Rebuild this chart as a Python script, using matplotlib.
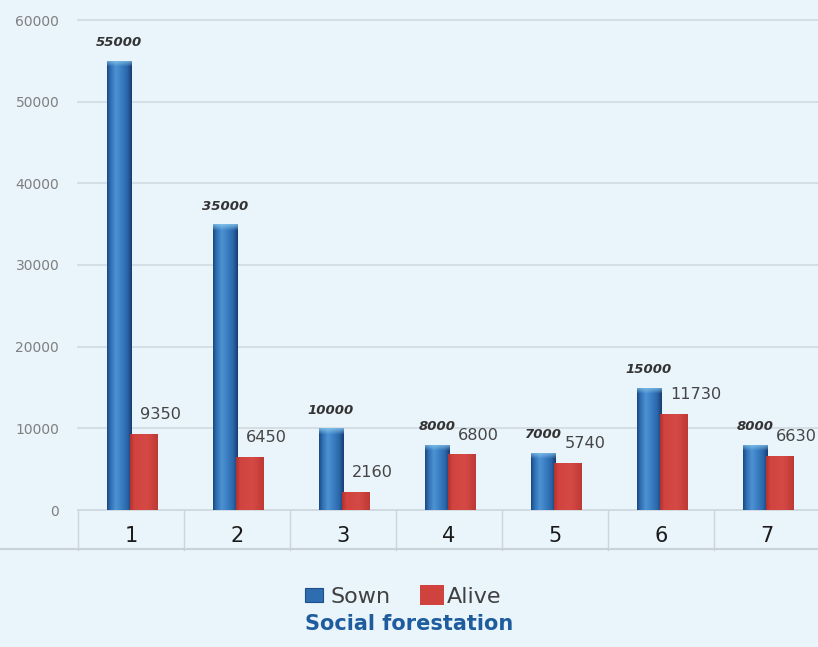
import numpy as np
import matplotlib
matplotlib.use("Agg")
import matplotlib.pyplot as plt
from matplotlib.colors import to_rgb
from matplotlib.patches import Rectangle
from matplotlib.transforms import blended_transform_factory

# ---- data ----
categories = ["1", "2", "3", "4", "5", "6", "7"]
sown = [55000, 35000, 10000, 8000, 7000, 15000, 8000]
alive = [9350, 6450, 2160, 6800, 5740, 11730, 6630]
y_ticks = [0, 10000, 20000, 30000, 40000, 50000, 60000]
series_names = ["Sown", "Alive"]
title = "Social forestation"

BG = "#e9f4fb"
W, H = 818, 647

fig = plt.figure(figsize=(W / 100, H / 100), dpi=100, facecolor=BG)
ax = fig.add_axes([78 / W, 137 / H, 742 / W, 490 / H], facecolor=BG)

x = np.arange(len(categories))
blue_w, red_w = 0.227, 0.264
blue_off, red_off = -0.113, 0.123

blue_bars = ax.bar(x + blue_off, sown, width=blue_w, color="#2e6db0", zorder=3, linewidth=0)
red_bars = ax.bar(x + red_off, alive, width=red_w, color="#d0423e", zorder=4, linewidth=0)


def profile(stops, n):
    pos = np.array([s[0] for s in stops])
    cols = np.array([to_rgb(s[1]) for s in stops])
    t = np.linspace(0, 1, n)
    return np.stack([np.interp(t, pos, cols[:, k]) for k in range(3)], axis=1)


blue_stops = [(0.0, "#1c4984"), (0.12, "#2c6cb0"), (0.35, "#4d93d3"),
              (0.55, "#3d81c5"), (0.82, "#2b66aa"), (1.0, "#183f74")]
red_stops = [(0.0, "#b5322f"), (0.15, "#d0433f"), (0.6, "#d64a45"), (1.0, "#bf3935")]

px_per_unit = 490 / 60000.0


def shade(bars, stops, cap_color, zorder):
    cols = 40
    base = profile(stops, cols)
    for p in bars:
        bx, by = p.get_x(), p.get_y()
        bw, bh = p.get_width(), p.get_height()
        rows = max(int(bh * px_per_unit), 2)
        img = np.repeat(base[None, :, :], rows, axis=0)
        if cap_color is not None:
            cap = np.array(to_rgb(cap_color))
            k = min(6, rows)
            for r in range(k):
                a = 0.75 * (1 - r / k)
                img[r] = img[r] * (1 - a) + cap * a
        im = ax.imshow(img, extent=[bx, bx + bw, by, by + bh], origin="upper",
                       aspect="auto", zorder=zorder, interpolation="bilinear")
        im.set_clip_path(p)


shade(blue_bars, blue_stops, "#8ccbf0", 3.5)
shade(red_bars, red_stops, None, 4.5)

ax.set_xlim(-0.5, len(categories) - 0.5)
ax.set_ylim(0, 60000)

# grid
ax.set_yticks(y_ticks)
ax.set_yticklabels([str(v) for v in y_ticks], fontsize=10, color="#808080",
                   family="DejaVu Sans")
ax.tick_params(axis="y", length=0, pad=13.5)
ax.set_xticks([])
for v in y_ticks[1:]:
    ax.axhline(v, color="#d5dee5", lw=1.4, zorder=1, clip_on=False)
for s in ax.spines.values():
    s.set_visible(False)

# category table under the axis
tr = blended_transform_factory(ax.transData, ax.transAxes)
cell_h = 40 / 490
line_c = "#cdd5dc"
ax.plot([-0.5, len(categories) - 0.5], [0, 0], transform=tr, color=line_c, lw=1.2,
        clip_on=False, zorder=2)
for b in np.arange(-0.5, len(categories), 1.0):
    ax.plot([b, b], [0, -cell_h], transform=tr, color=line_c, lw=1.0,
            clip_on=False, zorder=2)
fig.add_artist(plt.Line2D([0, 1], [1 - 549 / H, 1 - 549 / H], color="#cad2d9", lw=1.5))
for xi, c in zip(x, categories):
    ax.text(xi, -32 / 490, c, transform=tr, ha="center", va="baseline",
            fontsize=15, color="#1a1a1a", family="DejaVu Sans")

# value labels
for xi, v in zip(x, sown):
    ax.annotate(str(v), (xi + blue_off, v), xytext=(0, 13), textcoords="offset points",
                ha="center", va="center", fontsize=9.5, fontweight="bold",
                fontstyle="italic", color="#333333", family="DejaVu Sans", zorder=6)
for xi, v in zip(x, alive):
    ax.annotate(str(v), (xi + red_off - 0.035, v), xytext=(0, 14), textcoords="offset points",
                ha="left", va="center", fontsize=11.6, color="#454545",
                family="DejaVu Sans", zorder=6)

# legend
def fy(py):
    return 1 - py / H

fig.add_artist(Rectangle((305 / W, fy(602)), 18 / W, 14 / H, facecolor="#2e6db0",
                         edgecolor="#1d4f8a", lw=0.8))
fig.text(331 / W, fy(603), series_names[0], ha="left", va="baseline", fontsize=16,
         color="#404040", family="DejaVu Sans")
fig.add_artist(Rectangle((420 / W, fy(605)), 24 / W, 20 / H, facecolor="#d0423e",
                         edgecolor="none"))
fig.text(447 / W, fy(603), series_names[1], ha="left", va="baseline", fontsize=16,
         color="#404040", family="DejaVu Sans")

fig.text(409 / W, fy(630), title, ha="center", va="baseline", fontsize=15,
         fontweight="bold", color="#1f5c9e", family="DejaVu Sans")

fig.savefig("out.png", dpi=100, facecolor=BG)
